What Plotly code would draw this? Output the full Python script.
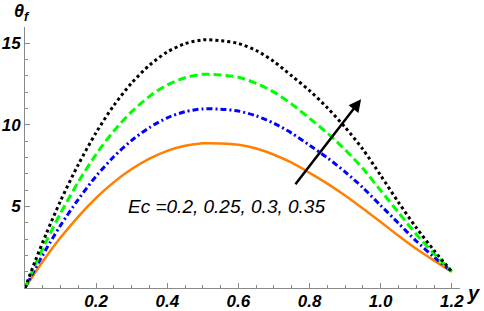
import plotly.graph_objects as go

# y-coordinate samples
y_vals = [0, 0.03, 0.06, 0.1, 0.15, 0.2, 0.25, 0.3, 0.35, 0.4, 0.45, 0.5, 0.55,
          0.6, 0.65, 0.7, 0.75, 0.8, 0.85, 0.9, 0.95, 1.0, 1.05, 1.1, 1.15, 1.2]

# theta_f for Ec = 0.2 (orange, solid)
theta_ec020 = [0, 1.0, 1.93, 3.09, 4.38, 5.52, 6.49, 7.29, 7.93, 8.41, 8.72, 8.87, 8.86,
               8.78, 8.55, 8.17, 7.68, 7.06, 6.40, 5.67, 4.87, 4.04, 3.21, 2.40, 1.68, 1.0]
# Ec = 0.25 (blue, dash-dot)
theta_ec025 = [0, 1.24, 2.40, 3.84, 5.44, 6.86, 8.06, 9.05, 9.84, 10.43, 10.81, 10.98, 10.96,
               10.85, 10.55, 10.10, 9.49, 8.75, 7.98, 7.12, 6.15, 5.06, 3.97, 2.88, 1.90, 1.0]
# Ec = 0.3 (green, dashed)
theta_ec030 = [0, 1.49, 2.87, 4.59, 6.51, 8.20, 9.63, 10.81, 11.75, 12.45, 12.89, 13.10, 13.06,
               12.92, 12.55, 12.01, 11.27, 10.40, 9.50, 8.48, 7.32, 5.98, 4.63, 3.30, 2.10, 1.0]
# Ec = 0.35 (black, dotted)
theta_ec035 = [0, 1.73, 3.34, 5.35, 7.57, 9.53, 11.20, 12.57, 13.66, 14.47, 14.98, 15.21, 15.16,
               14.99, 14.56, 13.88, 13.00, 12.10, 11.05, 9.85, 8.50, 6.90, 5.25, 3.70, 2.30, 1.0]

x_ticks = [0.2, 0.4, 0.6, 0.8, 1.0, 1.2]
x_ticktext = ["0.2", "0.4", "0.6", "0.8", "1.0", "1.2"]
y_ticks = [5, 10, 15]
y_ticktext = ["5", "10", "15"]

label_text = "Ec =0.2, 0.25, 0.3, 0.35"

fig = go.Figure()
fig.add_trace(go.Scatter(x=y_vals, y=theta_ec020, mode="lines",
                         line=dict(color="#ff8000", width=2.5, shape="spline", smoothing=0.8)))
fig.add_trace(go.Scatter(x=y_vals, y=theta_ec025, mode="lines",
                         line=dict(color="#0000ff", width=3, dash="6px,3px,2px,3px",
                                   shape="spline", smoothing=0.8)))
fig.add_trace(go.Scatter(x=y_vals, y=theta_ec030, mode="lines",
                         line=dict(color="#00ff00", width=3, dash="8px,4px",
                                   shape="spline", smoothing=0.8)))
fig.add_trace(go.Scatter(x=y_vals, y=theta_ec035, mode="lines",
                         line=dict(color="#000000", width=3, dash="3px,3px",
                                   shape="spline", smoothing=0.8)))

tickfont = dict(family="Liberation Sans", size=17, color="black", weight="bold", style="italic")
axis_color = "#8a8a8a"

fig.update_layout(
    width=484, height=311,
    margin=dict(l=25, r=24, t=27, b=23, autoexpand=False),
    paper_bgcolor="white", plot_bgcolor="white",
    showlegend=False,
    xaxis=dict(range=[0, 1.223], tickmode="array", tickvals=x_ticks, ticktext=x_ticktext,
               ticks="inside", ticklen=5, tickwidth=1, tickcolor=axis_color,
               ticklabelstandoff=-2,
               showline=True, linecolor=axis_color, linewidth=1, automargin=False,
               showgrid=False, zeroline=False, tickfont=tickfont,
               minor=dict(dtick=0.05, tick0=0, ticks="inside", ticklen=3,
                          tickcolor=axis_color, showgrid=False)),
    yaxis=dict(range=[0, 16], tickmode="array", tickvals=y_ticks, ticktext=y_ticktext,
               ticks="inside", ticklen=5, tickwidth=1, tickcolor=axis_color,
               showline=True, linecolor=axis_color, linewidth=1, automargin=False,
               showgrid=False, zeroline=False, tickfont=tickfont,
               minor=dict(dtick=1, tick0=0, ticks="inside", ticklen=3,
                          tickcolor=axis_color, showgrid=False)),
)

fig.add_annotation(x=0.945, y=11.57, ax=0.757, ay=6.27, xref="x", yref="y",
                   axref="x", ayref="y", showarrow=True, arrowhead=2, arrowsize=1,
                   arrowwidth=2.5, arrowcolor="black", text="")
fig.add_annotation(x=0.285, y=5.0, xref="x", yref="y", text=label_text, showarrow=False,
                   xanchor="left", yanchor="middle",
                   font=dict(family="Liberation Sans", size=19, color="black", style="italic"))
fig.add_annotation(x=1.03, y=-0.02, xref="paper", yref="paper", text="<b><i>y</i></b>",
                   showarrow=False, xanchor="center", yanchor="middle",
                   font=dict(family="Liberation Sans", size=20, color="black"))
fig.add_annotation(x=-0.007, y=1.057, xref="paper", yref="paper",
                   text="<b><i>θ</i></b><sub><b><i>f</i></b></sub>",
                   showarrow=False, xanchor="center", yanchor="middle",
                   font=dict(family="Liberation Sans", size=18, color="black"))

fig.write_html("out.html", config={"displayModeBar": False},
               post_script="document.body.style.margin='0px';document.body.style.overflow='hidden';")
